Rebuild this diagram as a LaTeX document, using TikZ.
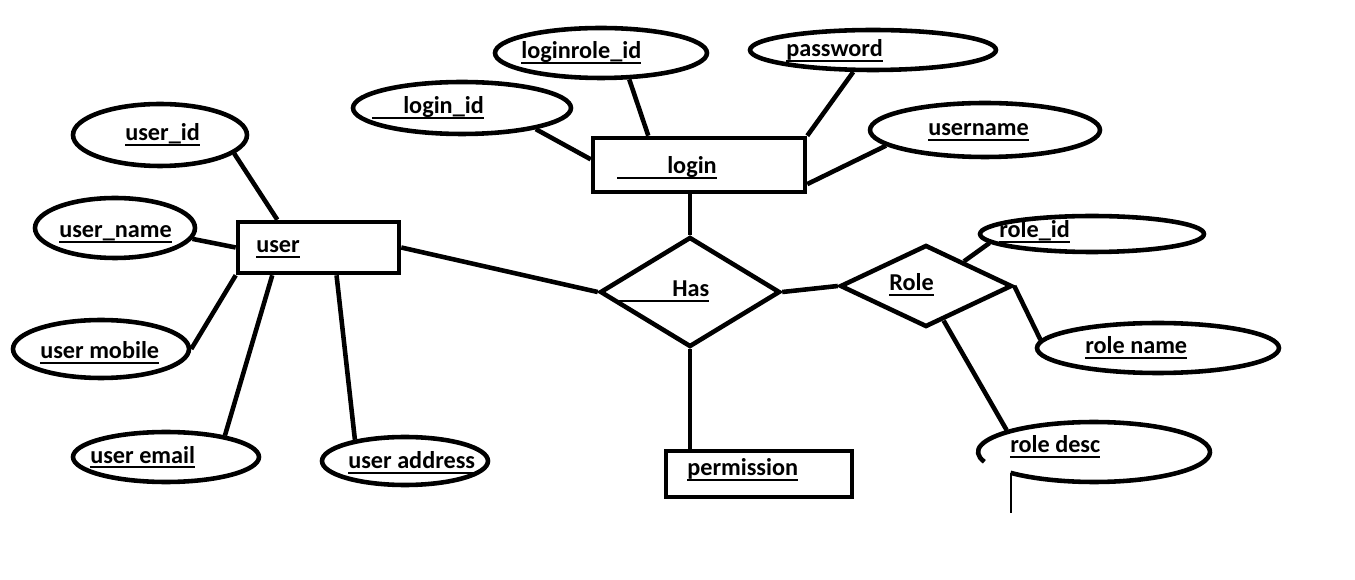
\documentclass[tikz,border=0pt]{standalone}
\usepackage{fontspec}
\setmainfont{Carlito}
\usetikzlibrary{shapes.geometric}
\newcommand\myul[1]{\setbox0\hbox{#1}\rlap{\rule[-2.6pt]{\wd0}{1.1pt}}\box0}
\begin{document}
\begin{tikzpicture}[x=0.02cm,y=-0.02cm,line width=2.6pt,
  attr/.style={draw,ellipse,inner sep=0pt},
  ent/.style={draw,rectangle,inner sep=0pt},
  rel/.style={draw,diamond,inner sep=0pt},
  lbl/.style={anchor=base west,inner sep=0pt,font=\fontsize{13.8}{16}\selectfont\bfseries}]
\useasboundingbox (0,0) rectangle (1355,580);
% entities
\node[ent,minimum width=3.22cm,minimum height=1.02cm] (user) at (318.5,247.5) {};
\node[ent,minimum width=4.24cm,minimum height=1.08cm] (login) at (699,165) {};
\node[ent,minimum width=3.72cm,minimum height=0.92cm] (perm) at (759,474) {};
% relationships
\node[rel,minimum width=3.6cm,minimum height=2.2cm] (has) at (690,292) {};
\node[rel,minimum width=3.44cm,minimum height=1.64cm] (role) at (926,286) {};
% attributes
\node[attr,minimum width=3.48cm,minimum height=1.24cm] (uid) at (160,135) {};
\node[attr,minimum width=3.2cm,minimum height=1.2cm] (uname) at (115,228) {};
\node[attr,minimum width=3.52cm,minimum height=1.16cm] (umob) at (101,349) {};
\node[attr,minimum width=3.72cm,minimum height=1.0cm] (uemail) at (166,457) {};
\node[attr,minimum width=3.32cm,minimum height=0.96cm] (uaddr) at (405,461) {};
\node[attr,minimum width=4.36cm,minimum height=1.04cm] (lid) at (462,108) {};
\node[attr,minimum width=4.24cm,minimum height=1.0cm] (lrid) at (601,53) {};
\node[attr,minimum width=4.92cm,minimum height=0.8cm] (pwd) at (873,50) {};
\node[attr,minimum width=4.6cm,minimum height=1.08cm] (usrn) at (985,130) {};
\node[attr,minimum width=4.48cm,minimum height=0.72cm] (rid) at (1092,234) {};
\node[attr,minimum width=4.84cm,minimum height=1.0cm] (rname) at (1158,348) {};
\node[ellipse,inner sep=0pt,minimum width=4.64cm,minimum height=1.2cm] (rdesc) at (1094,452) {};
\draw ([shift={(224:2.32cm and 0.6cm)}]rdesc.center) arc[start angle=224,end angle=559,x radius=2.32cm,y radius=0.6cm];
\draw[line width=1.2pt] ([shift={(224:2.32cm and 0.6cm)}]rdesc.center) -- ++(0,40);
% labels
\node[lbl] (tuid) at (123,141) {\myul{user\_id}};
\node[lbl] (tuname) at (57,238) {\myul{user\_name}};
\node[lbl] (tumob) at (38,359) {\myul{user mobile}};
\node[lbl] (tuemail) at (88,463) {\myul{user email}};
\node[lbl] (tuaddr) at (346,469) {\myul{user address}};
\node[lbl] (tuser) at (254,253) {\myul{user}};
\node[lbl] (tlid) at (370,114) {\myul{\hspace*{0.62cm}login\_id}};
\node[lbl] (tlrid) at (519,59) {\myul{loginrole\_id}};
\node[lbl] (tpwd) at (784,57) {\myul{password}};
\node[lbl] (tusrn) at (926,136) {\myul{username}};
\node[lbl] (tlogin) at (615,174) {\myul{\hspace*{1.0cm}login}};
\node[lbl] (thas) at (617,297) {\myul{\hspace*{1.06cm}Has}};
\node[lbl] (trole) at (887,291) {\myul{Role}};
\node[lbl] (tperm) at (685,476) {\myul{permission}};
\node[lbl] (trid) at (997,238) {\myul{role\_id}};
\node[lbl] (trname) at (1083,354) {\myul{role name}};
\node[lbl] (trdesc) at (1008,453) {\myul{role desc}};
% connectors
\draw (uid.-14) -- (user.146.5);
\draw (uname.-8) -- (user.west);
\draw (umob.0) -- (user.south west);
\draw (uemail.20) -- (user.-149);
\draw (uaddr.157) -- (user.-57);
\draw (user.east) -- (has.west);
\draw (lid.-16) -- (login.177);
\draw (lrid.-43) -- (login.150);
\draw (pwd.-132) -- (login.north east);
\draw (usrn.189) -- (login.-10);
\draw (login.south -| has.north) -- (has.north);
\draw (has.south) -- (has.south |- perm.north);
\draw (has.east) -- (role.west);
\draw (role.33) -- (rid.185);
\draw (role.east) -- (rname.176);
\draw (role.-63) -- (rdesc.166);
\end{tikzpicture}
\end{document}
